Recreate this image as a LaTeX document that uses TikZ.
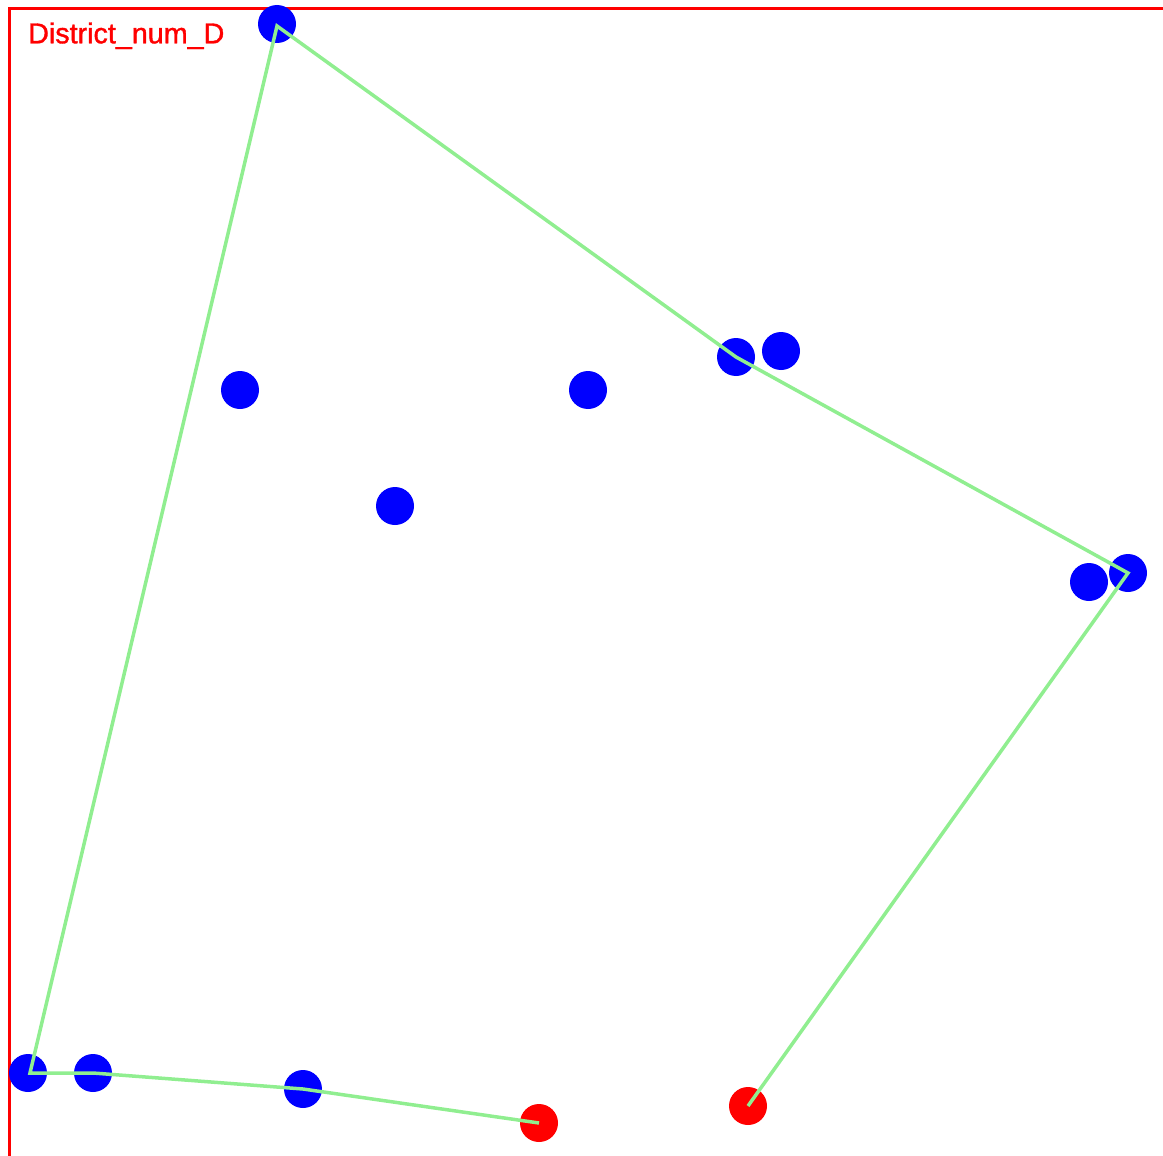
\documentclass[tikz,border=0pt]{standalone}
\usepackage{fontspec}
\setmainfont{Liberation Sans}
\newfontfamily\titlefont[BoldFont=Liberation Sans,BoldFeatures={FakeBold=1.2}]{Liberation Sans}
\definecolor{routegreen}{RGB}{144,238,144}
\definecolor{ptblue}{RGB}{0,0,255}
\definecolor{ptred}{RGB}{255,0,0}
\begin{document}
\begin{tikzpicture}[x=1pt,y=-1pt,
  stop/.style={circle,fill=ptblue,minimum size=38pt,inner sep=0pt,draw=none},
  depot/.style={circle,fill=ptred,minimum size=38pt,inner sep=0pt,draw=none},
  route/.style={draw=routegreen,line width=3.5pt,line join=miter},
  frame/.style={draw=ptred,line width=3pt}]
\useasboundingbox (0,0) rectangle (1163,1156);
\clip (0,0) rectangle (1163,1156);
% district frame
\draw[frame] (9.5,8.5) rectangle (1180,1157.5);
\node[anchor=base west,inner sep=0pt,text=ptred,font=\titlefont\bfseries\fontsize{28.7}{30}\selectfont] (title) at (28,43.3) {District\_num\_D};
% stops
\node[stop] (a) at (277,24) {};
\node[stop] (b) at (240,390) {};
\node[stop] (c) at (588,390) {};
\node[stop] (d) at (395,506) {};
\node[stop] (e) at (736,357) {};
\node[stop] (f) at (781,351) {};
\node[stop] (g) at (1089,582) {};
\node[stop] (h) at (1128,573) {};
\node[stop] (k) at (303,1089) {};
\node[stop] (l) at (93,1073) {};
\node[stop] (m) at (28,1073) {};
% depots
\node[depot] (i) at (748,1106) {};
\node[depot] (j) at (539,1123) {};
% route
\draw[route] (j.center) -- (k.center) -- (l.center) -- ([xshift=2pt]m.center) -- ([yshift=-2pt]a.center) -- (e.center) -- (h.center) -- (i.center);
\end{tikzpicture}
\end{document}
